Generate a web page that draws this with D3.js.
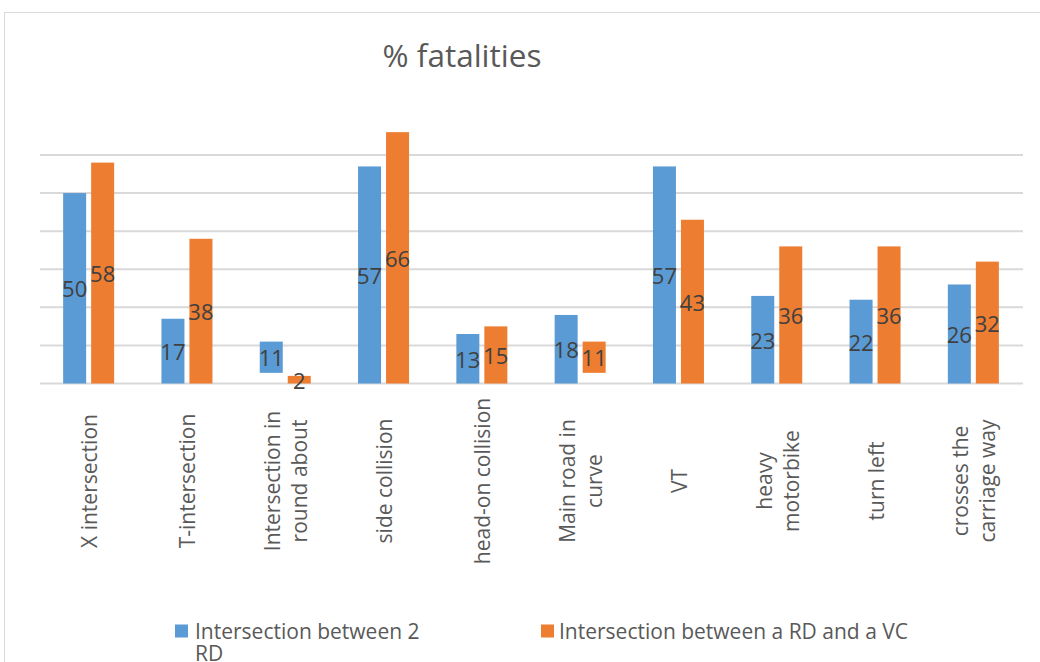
<!DOCTYPE html>
<html>
<head>
<meta charset="utf-8">
<script src="https://cdn.jsdelivr.net/npm/d3@7/dist/d3.min.js"></script>
<style>
  html, body { margin: 0; padding: 0; background: #fff; }
  svg { display: block; font-family: "Open Sans", "DejaVu Sans", sans-serif; }
</style>
</head>
<body>
<svg id="chart" width="1040" height="662"></svg>
<script>
const title = "% fatalities";
const categories = [
  "X intersection",
  "T-intersection",
  "Intersection in\nround about",
  "side collision",
  "head-on collision",
  "Main road in\ncurve",
  "VT",
  "heavy\nmotorbike",
  "turn left",
  "crosses the\ncarriage way"
];
const seriesNames = ["Intersection between 2\nRD", "Intersection between a RD and a VC"];
const seriesColors = ["#5B9BD5", "#ED7D31"];
const valuesBetween2RD = [50, 17, 11, 57, 13, 18, 57, 23, 22, 26];
const valuesRDandVC = [58, 38, 2, 66, 15, 11, 43, 36, 36, 32];
// lower end of each bar as it appears in the picture (most start at 0)
const floorBetween2RD = [0, 0, 2.8, 0, 0, 0, 0, 0, 0, 0];
const floorRDandVC = [0, 0, 0, 0, 0, 2.8, 0, 0, 0, 0];
const gridTicks = [0, 10, 20, 30, 40, 50, 60];

const svg = d3.select("#chart");

// outer chart frame
svg.append("rect")
  .attr("x", 4.5).attr("y", 12.5)
  .attr("width", 1100).attr("height", 700)
  .attr("fill", "none").attr("stroke", "#d9d9d9").attr("stroke-width", 1);

// title
svg.append("text")
  .attr("x", 462).attr("y", 66.5)
  .attr("text-anchor", "middle")
  .attr("font-size", 31.5)
  .attr("fill", "#595959")
  .text(title);

const left = 40, right = 1023;
const x = d3.scaleBand().domain(categories).range([left, right]).padding(0);
const y = d3.scaleLinear().domain([0, 60]).range([383.5, 155]);

// gridlines
svg.append("g")
  .selectAll("line")
  .data(gridTicks)
  .join("line")
  .attr("x1", left).attr("x2", right)
  .attr("y1", d => y(d)).attr("y2", d => y(d))
  .attr("stroke", "#d9d9d9").attr("stroke-width", 2);

const barW = 23, gap = 5;
const rows = categories.map((c, i) => ({
  cat: c,
  bars: [
    { s: 0, v: valuesBetween2RD[i], f: floorBetween2RD[i] },
    { s: 1, v: valuesRDandVC[i], f: floorRDandVC[i] }
  ]
}));

const barX = (cat, s) => {
  const cx = x(cat) + x.bandwidth() / 2 - 0.5;
  return s === 0 ? cx - gap / 2 - barW : cx + gap / 2;
};

const groups = svg.append("g").selectAll("g")
  .data(rows).join("g");

groups.selectAll("rect")
  .data(d => d.bars.map(b => ({ ...b, cat: d.cat })))
  .join("rect")
  .attr("x", d => barX(d.cat, d.s))
  .attr("y", d => y(d.v))
  .attr("width", barW)
  .attr("height", d => y(d.f) - y(d.v))
  .attr("fill", d => seriesColors[d.s]);

// data labels
groups.selectAll("text")
  .data(d => d.bars.map(b => ({ ...b, cat: d.cat })))
  .join("text")
  .attr("x", d => barX(d.cat, d.s) + barW / 2)
  .attr("y", d => (y(d.v) + y(d.f)) / 2)
  .attr("text-anchor", "middle")
  .attr("dominant-baseline", "central")
  .attr("font-size", 22)
  .attr("fill", "#404040")
  .text(d => d.v);

// category labels (rotated)
const lineStep = 27;
const catLabels = svg.append("g").selectAll("text")
  .data(categories).join("text")
  .attr("transform", d => `translate(${x(d) + x.bandwidth() / 2},481) rotate(-90)`)
  .attr("text-anchor", "middle")
  .attr("font-size", 21)
  .attr("fill", "#595959");
catLabels.each(function(d) {
  const lines = d.split("\n");
  const t = d3.select(this);
  lines.forEach((ln, k) => {
    t.append("tspan")
      .attr("x", 0)
      .attr("y", (k - (lines.length - 1) / 2) * lineStep)
      .attr("dominant-baseline", "central")
      .text(ln);
  });
});

// legend
const legendPos = [{ sq: 175, tx: 195 }, { sq: 541, tx: 559 }];
const leg = svg.append("g").selectAll("g")
  .data(seriesNames).join("g");
leg.append("rect")
  .attr("x", (d, i) => legendPos[i].sq)
  .attr("y", 624.5)
  .attr("width", 13).attr("height", 13)
  .attr("fill", (d, i) => seriesColors[i]);
leg.append("text")
  .attr("font-size", 21)
  .attr("fill", "#595959")
  .each(function(d, i) {
    const t = d3.select(this);
    d.split("\n").forEach((ln, k) => {
      t.append("tspan")
        .attr("x", legendPos[i].tx)
        .attr("y", 639 + k * 22)
        .text(ln);
    });
  });
</script>
</body>
</html>
